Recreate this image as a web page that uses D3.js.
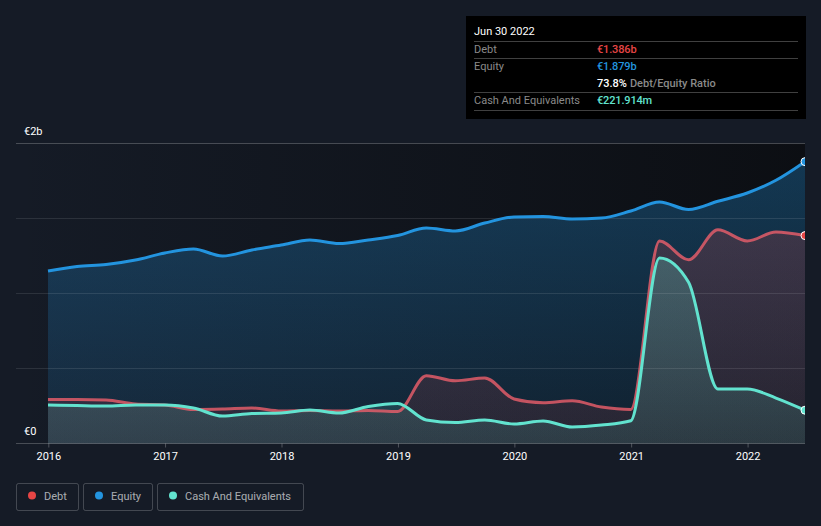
<!DOCTYPE html>
<html>
<head>
<meta charset="utf-8">
<script src="https://cdn.jsdelivr.net/npm/d3@7"></script>
<style>
  html, body { margin: 0; padding: 0; background: #151b26; }
  svg { display: block; }
  text { font-family: Roboto, sans-serif; }
</style>
</head>
<body>
<div id="chart"></div>
<script>
// quarterly report dates
const dates = [
  "2015-12-31", "2016-03-31", "2016-06-30", "2016-09-30",
  "2016-12-31", "2017-03-31", "2017-06-30", "2017-09-30",
  "2017-12-31", "2018-03-31", "2018-06-30", "2018-09-30",
  "2018-12-31", "2019-03-31", "2019-06-30", "2019-09-30",
  "2019-12-31", "2020-03-31", "2020-06-30", "2020-09-30",
  "2020-12-31", "2021-03-31", "2021-06-30", "2021-09-30",
  "2021-12-31", "2022-03-31", "2022-06-30"
];

// values in EUR billions
const debt = [
  0.293, 0.293, 0.290, 0.263,
  0.257, 0.227, 0.230, 0.237,
  0.217, 0.220, 0.217, 0.220,
  0.213, 0.452, 0.418, 0.437,
  0.297, 0.272, 0.285, 0.243,
  0.227, 1.350, 1.225, 1.425,
  1.350, 1.410, 1.386
];
const equity = [
  1.150, 1.180, 1.193, 1.223,
  1.270, 1.297, 1.250, 1.290,
  1.323, 1.357, 1.333, 1.357,
  1.387, 1.437, 1.417, 1.470,
  1.510, 1.513, 1.497, 1.503,
  1.550, 1.610, 1.560, 1.615,
  1.670, 1.755, 1.879
];
const cash = [
  0.257, 0.253, 0.250, 0.257,
  0.257, 0.237, 0.183, 0.200,
  0.203, 0.223, 0.203, 0.247,
  0.267, 0.157, 0.140, 0.157,
  0.130, 0.150, 0.110, 0.123,
  0.152, 1.237, 1.075, 0.363,
  0.363, 0.303, 0.2219
];

const yearTicks = [2016, 2017, 2018, 2019, 2020, 2021, 2022];
const yTicks = [0, 0.5, 1, 1.5, 2];
const yLabels = { 0: "€0", 2: "€2b" };

const seriesNames = ["Debt", "Equity", "Cash And Equivalents"];
const seriesColors = ["#e64545", "#2394df", "#62e3cf"];
const lineColors = ["#ee5f6c", "#2394df", "#62e3cf"];
const seriesValues = [debt, equity, cash];
const fillOpacity = [[0.24, 0.1], [0.32, 0.12], [0.32, 0.12]];

const tipDate = "Jun 30 2022";
const tipRows = [
  { label: "Debt", value: "€1.386b", color: seriesColors[0] },
  { label: "Equity", value: "€1.879b", color: seriesColors[1] },
  { label: "", value: "73.8%", color: "#fff", extra: "Debt/Equity Ratio" },
  { label: "Cash And Equivalents", value: "€221.914m", color: seriesColors[2] }
];

const width = 821, height = 526;
const parse = d3.utcParse("%Y-%m-%d");
const when = dates.map(parse);

const x = d3.scaleUtc().domain([when[0], when[when.length - 1]]).range([48, 805]);
const y = d3.scaleLinear().domain([0, 2]).range([443.5, 143.5]);

const svg = d3.select("#chart").append("svg").attr("width", width).attr("height", height);
const defs = svg.append("defs");

defs.append("clipPath").attr("id", "plot-clip").append("rect")
  .attr("x", 16).attr("y", 130).attr("width", 789).attr("height", 320);

// dark band that gets stronger to the right
const bg = defs.append("linearGradient").attr("id", "bg-grad");
bg.append("stop").attr("offset", "0%").attr("stop-color", "#0b0d11").attr("stop-opacity", 0);
bg.append("stop").attr("offset", "100%").attr("stop-color", "#0b0d11").attr("stop-opacity", 0.9);

seriesColors.forEach(function (c, i) {
  const g = defs.append("linearGradient").attr("id", "fill-" + i)
    .attr("gradientUnits", "userSpaceOnUse")
    .attr("x1", 0).attr("x2", 0).attr("y1", y(2)).attr("y2", y(0));
  g.append("stop").attr("offset", "0%").attr("stop-color", c).attr("stop-opacity", fillOpacity[i][0]);
  g.append("stop").attr("offset", "100%").attr("stop-color", c).attr("stop-opacity", fillOpacity[i][1]);
});

svg.append("rect").attr("x", 16).attr("y", y(2)).attr("width", 789).attr("height", y(0) - y(2))
  .attr("fill", "url(#bg-grad)");

// series areas go under the grid so the grid shows through
const area = d3.area().curve(d3.curveMonotoneX)
  .x(function (d, i) { return x(when[i]); })
  .y0(y(0))
  .y1(function (d) { return y(d); });
const line = d3.line().curve(d3.curveMonotoneX)
  .x(function (d, i) { return x(when[i]); })
  .y(function (d) { return y(d); });

const plot = svg.append("g").attr("clip-path", "url(#plot-clip)");
const drawOrder = [1, 0, 2];

drawOrder.forEach(function (i) {
  plot.append("path").datum(seriesValues[i])
    .attr("d", area).attr("fill", "url(#fill-" + i + ")");
});

// grid + y labels
const yAxis = svg.append("g").attr("transform", "translate(16,0)")
  .call(d3.axisRight(y).offset(0).tickValues(yTicks).tickSize(789).tickFormat(""));
yAxis.select(".domain").remove();
yAxis.selectAll(".tick line")
  .attr("stroke", "#fff")
  .attr("stroke-opacity", function (d) { return d === 0 || d === 2 ? 0.22 : 0.1; });

yTicks.filter(function (d) { return yLabels[d]; }).forEach(function (d) {
  svg.append("text").attr("x", 24).attr("y", y(d) - 8.5)
    .attr("fill", "#fff").attr("font-size", 11).text(yLabels[d]);
});

// x axis
const xAxis = svg.append("g").attr("transform", "translate(0," + y(0) + ")")
  .call(d3.axisBottom(x)
    .tickValues(yearTicks.map(function (t) { return new Date(Date.UTC(t, 0, 1)); }))
    .tickSize(4).tickPadding(5)
    .tickFormat(d3.utcFormat("%Y")));
xAxis.select(".domain").remove();
xAxis.selectAll(".tick line").attr("stroke", "#fff").attr("stroke-opacity", 0.25);
xAxis.selectAll(".tick text").attr("fill", "#fff").attr("font-size", 11)
  .style("font-family", "Roboto, sans-serif");

const lines = svg.append("g").attr("clip-path", "url(#plot-clip)");
drawOrder.forEach(function (i) {
  lines.append("path").datum(seriesValues[i])
    .attr("d", line).attr("fill", "none")
    .attr("stroke", lineColors[i]).attr("stroke-width", 3)
    .attr("stroke-opacity", i === 0 ? 0.8 : 1);
});
drawOrder.forEach(function (i) {
  const v = seriesValues[i];
  lines.append("circle")
    .attr("cx", x(when[when.length - 1])).attr("cy", y(v[v.length - 1]))
    .attr("r", 4).attr("fill", seriesColors[i])
    .attr("stroke", "#fff").attr("stroke-width", 1);
});

// tooltip panel
const tip = svg.append("g");
tip.append("rect").attr("x", 466).attr("y", 16).attr("width", 340).attr("height", 103).attr("fill", "#000");
tip.append("text").attr("x", 474).attr("y", 35).attr("fill", "#fff").attr("font-size", 11).text(tipDate);

const rowY = d3.scalePoint().domain(d3.range(tipRows.length)).range([53, 104]);
tipRows.forEach(function (r, i) {
  tip.append("text").attr("x", 474).attr("y", rowY(i))
    .attr("fill", "#8a8a8a").attr("font-size", 11).text(r.label);
  const t = tip.append("text").attr("x", 597).attr("y", rowY(i)).attr("font-size", 11).attr("font-weight", 500);
  t.append("tspan").attr("fill", r.color).attr("letter-spacing", r.extra ? 0 : -0.15).text(r.value);
  if (r.extra) {
    t.append("tspan").attr("fill", "#8a8a8a").attr("dx", 3).text(r.extra);
  }
});
[41.5, 58.5, 92.5, 110.5].forEach(function (ly) {
  tip.append("line").attr("x1", 474).attr("x2", 798).attr("y1", ly).attr("y2", ly)
    .attr("stroke", "#fff").attr("stroke-opacity", 0.25);
});

// legend
const legendBoxes = [[16, 62], [83, 69], [157, 146]];
seriesNames.forEach(function (name, i) {
  const g = svg.append("g").attr("transform", "translate(" + legendBoxes[i][0] + ",483)");
  g.append("rect").attr("x", 0.5).attr("y", 0.5).attr("width", legendBoxes[i][1]).attr("height", 27)
    .attr("rx", 2).attr("fill", "none").attr("stroke", "#fff").attr("stroke-opacity", 0.2);
  g.append("circle").attr("cx", 16).attr("cy", 12.5).attr("r", 4).attr("fill", seriesColors[i]);
  g.append("text").attr("x", 28).attr("y", 16.5).attr("fill", "#fff").attr("fill-opacity", 0.65)
    .attr("font-size", 11).text(name);
});
</script>
</body>
</html>
